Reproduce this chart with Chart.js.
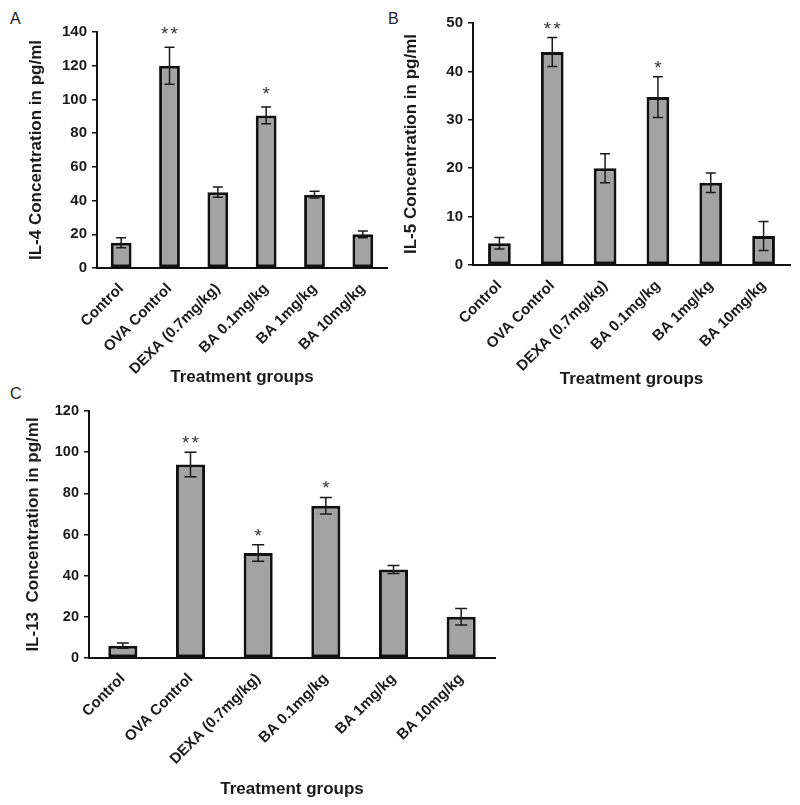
<!DOCTYPE html>
<html>
<head>
<meta charset="UTF-8">
<title>IL-4, IL-5 and IL-13 levels</title>
<script src="https://cdn.jsdelivr.net/npm/chart.js"></script>
<style>
  body { margin: 0; background: #fff; width: 800px; height: 805px; position: relative; overflow: hidden; font-family: "Liberation Sans", Arial, sans-serif; }
  canvas { position: absolute; }
  .tag { position: absolute; font-size: 16px; line-height: 16px; color: #222; }
</style>
</head>
<body>
<div class="tag" style="left:10px;top:11px">A</div>
<div class="tag" style="left:388px;top:11px">B</div>
<div class="tag" style="left:10px;top:386px">C</div>
<canvas id="chartA" width="400" height="395" style="left:0;top:0"></canvas>
<canvas id="chartB" width="400" height="395" style="left:400px;top:0"></canvas>
<canvas id="chartC" width="560" height="410" style="left:0;top:395px"></canvas>
<script>
const groups = ['Control', 'OVA Control', 'DEXA (0.7mg/kg)', 'BA 0.1mg/kg', 'BA 1mg/kg', 'BA 10mg/kg'];

const il4 = [15, 120, 45, 90.5, 43.5, 20];
const il4Err = [3, 11, 3, 5, 2, 2];
const il4Stars = ['', '**', '', '*', '', ''];

const il5 = [4.5, 44, 20, 34.7, 17, 6];
const il5Err = [1.2, 3, 3, 4.2, 2, 3];
const il5Stars = ['', '**', '', '*', '', ''];

const il13 = [6, 94, 51, 74, 43, 20];
const il13Err = [1.3, 6, 4, 4, 2, 4];
const il13Stars = ['', '**', '*', '*', '', ''];

const FONT = '"Liberation Sans", Arial, sans-serif';
const INK = '#1a1a1a';

// error bars + significance stars, drawn on top of the bars
const errorBarPlugin = {
  id: 'errorBars',
  afterDatasetsDraw(chart, args, opts) {
    const { ctx, scales: { y } } = chart;
    const vals = chart.data.datasets[0].data;
    ctx.save();
    ctx.strokeStyle = INK;
    ctx.lineWidth = 1.5;
    chart.getDatasetMeta(0).data.forEach((bar, i) => {
      const cx = bar.x;
      const hi = y.getPixelForValue(vals[i] + opts.err[i]);
      const lo = y.getPixelForValue(vals[i] - opts.err[i]);
      ctx.beginPath();
      ctx.moveTo(cx, hi); ctx.lineTo(cx, lo);
      ctx.moveTo(cx - opts.cap, hi); ctx.lineTo(cx + opts.cap, hi);
      ctx.moveTo(cx - opts.cap, lo); ctx.lineTo(cx + opts.cap, lo);
      ctx.stroke();
      if (opts.stars[i]) {
        ctx.fillStyle = '#333';
        ctx.font = '19px ' + FONT;
        ctx.letterSpacing = '2px';
        ctx.textAlign = 'center';
        ctx.textBaseline = 'alphabetic';
        ctx.fillText(opts.stars[i], cx + 1, hi - opts.gap);
      }
    });
    ctx.restore();
  }
};

function makeChart(id, values, errs, stars, yMax, yStep, yTitle, L) {
  return new Chart(document.getElementById(id), {
    type: 'bar',
    data: {
      labels: groups,
      datasets: [{
        data: values,
        backgroundColor: '#a3a3a3',
        borderColor: '#111',
        borderWidth: 3,
        borderSkipped: false,
        barPercentage: 0.43,
        categoryPercentage: 1
      }]
    },
    options: {
      responsive: false,
      animation: false,
      layout: { padding: { top: L.top, right: L.right, left: 0, bottom: 0 } },
      plugins: {
        legend: { display: false },
        tooltip: { enabled: false },
        errorBars: { err: errs, stars: stars, cap: L.cap, gap: L.starGap }
      },
      scales: {
        x: {
          grid: { display: false, drawTicks: false },
          border: { color: '#111', width: 2 },
          ticks: {
            autoSkip: false, maxRotation: 45, minRotation: 45, padding: L.xPad,
            color: INK, font: { family: FONT, size: 15, weight: 'bold' }
          },
          title: {
            display: true, text: 'Treatment groups', color: INK,
            font: { family: FONT, size: 17, weight: 'bold' },
            padding: { top: 0, bottom: L.xTitlePad }
          },
          afterFit: s => { s.height = L.xH; }
        },
        y: {
          min: 0, max: yMax,
          grid: { drawOnChartArea: false, drawTicks: true, tickLength: 5, color: '#111', lineWidth: 1.5 },
          border: { color: '#111', width: 2 },
          ticks: {
            stepSize: yStep, padding: 5, color: INK,
            font: { family: FONT, size: L.yTick, weight: 'bold' }
          },
          title: {
            display: true, text: yTitle, color: INK,
            font: { family: FONT, size: 17, weight: 'bold' },
            padding: { top: L.yTitlePad, bottom: 0 }
          },
          afterFit: s => { s.width = L.yW; }
        }
      }
    },
    plugins: [errorBarPlugin]
  });
}

makeChart('chartA', il4, il4Err, il4Stars, 140, 20, 'IL-4 Concentration in pg/ml',
  { top: 32, right: 13, yW: 97, xH: 127, yTitlePad: 26, xTitlePad: 7, xPad: 12, yTick: 15, cap: 5, starGap: 7 });
makeChart('chartB', il5, il5Err, il5Stars, 50, 10, 'IL-5 Concentration in pg/ml',
  { top: 23, right: 10, yW: 73, xH: 130, yTitlePad: 1, xTitlePad: 5, xPad: 12, yTick: 15, cap: 5, starGap: 3 });
makeChart('chartC', il13, il13Err, il13Stars, 120, 20, 'IL-13  Concentration in pg/ml',
  { top: 16, right: 65, yW: 89, xH: 147, yTitlePad: 23, xTitlePad: 5, xPad: 12, yTick: 14.5, cap: 6, starGap: 3 });
</script>
</body>
</html>
